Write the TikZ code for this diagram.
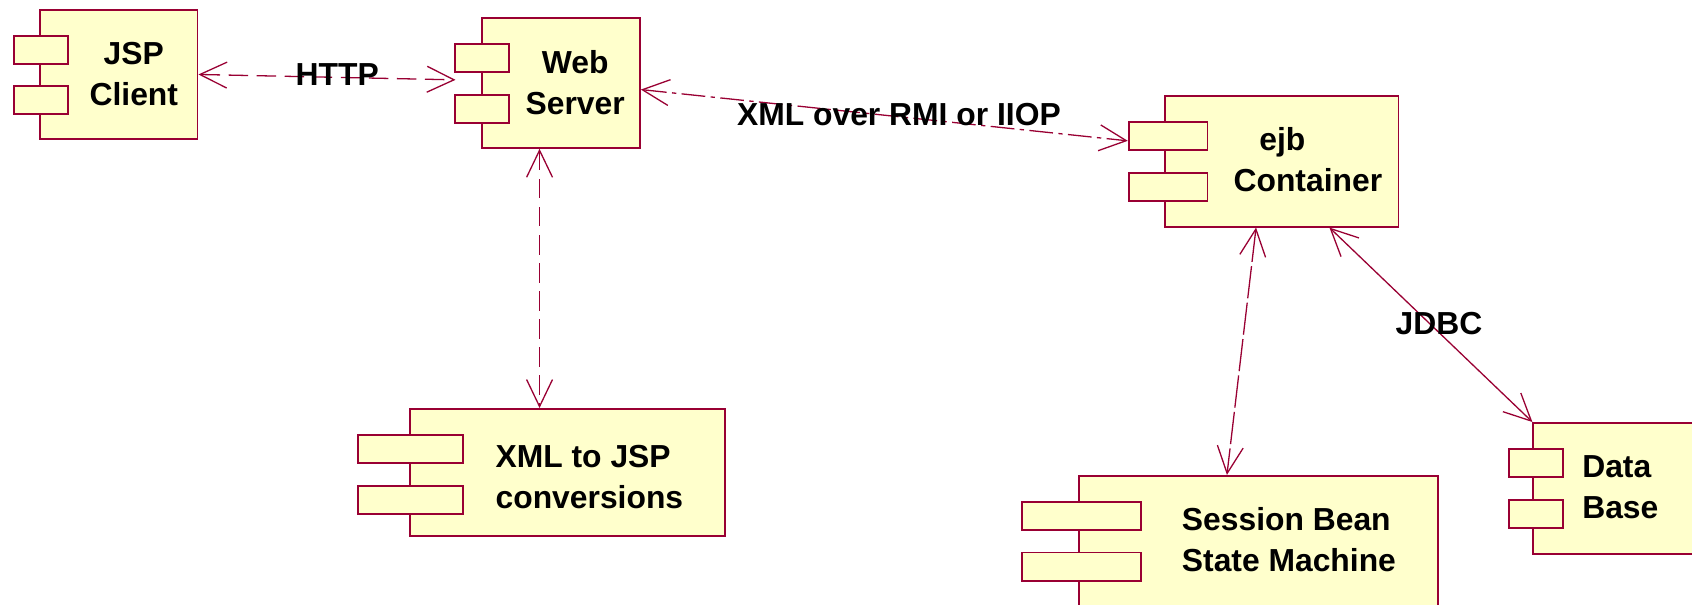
\documentclass[tikz,border=0pt]{standalone}
\usepackage{fontspec}
\setmainfont{Liberation Sans}
\usetikzlibrary{arrows.meta,calc,fit}

\definecolor{umlfill}{RGB}{255,255,204}
\definecolor{umlline}{RGB}{153,0,51}

\tikzset{
  compbox/.style={draw=umlline, fill=umlfill, line width=1.8pt},
  comptab/.style={draw=umlline, fill=umlfill, line width=1.8pt},
  lbl/.style={font=\bfseries\fontsize{29.5}{38}\selectfont, inner sep=0pt, text=black},
  dep/.style={draw=umlline, line width=1.2pt,
    {Straight Barb[length=25pt,width=24pt]}-{Straight Barb[length=25pt,width=24pt]}},
  longdash/.style={dash pattern=on 18pt off 8pt},
  dashdotline/.style={dash pattern=on 22pt off 5pt on 4pt off 5pt},
  sparsedash/.style={dash pattern=on 30pt off 4pt},
}

% UML component: body from (left,top) to (right,bottom), two tabs on the left side
\newcommand\umlcomponent[7]{%
  \coordinate (#1-nw) at (#2,#3);
  \coordinate (#1-se) at (#4,#5);
  \node[compbox, fit=(#1-nw)(#1-se), inner sep=0pt] (#1) {};
  \draw[comptab] (#6,{#3+24}) rectangle (#7,{#3+50});
  \draw[comptab] (#6,{#3+71}) rectangle (#7,{#3+97});
}

\begin{document}
\begin{tikzpicture}[x=1pt,y=-1pt]
\useasboundingbox (0,0) rectangle (1568,560);
\clip (0,0) rectangle (1568,560);

% components
\umlcomponent{jsp}{37}{9}{183}{129}{13}{63}
\umlcomponent{web}{447}{17}{593}{137}{422}{472}
\umlcomponent{ejb}{1080}{89}{1296}{210}{1046}{1119}
\umlcomponent{xml}{380}{379}{672}{497}{332}{429}
\umlcomponent{sess}{1000}{441}{1333}{566}{947}{1057}
\umlcomponent{db}{1421}{392}{1580}{513}{1398}{1448}

% component names
\node[lbl, align=center] (jsp-txt) at ([xshift=14pt]jsp.center) {JSP\\Client};
\node[lbl, align=center] (web-txt) at ([xshift=13pt]web.center) {Web\\Server};
\node[lbl, align=center] (ejb-txt) at ([xshift=24pt,yshift=2pt]ejb.center) {ejb\kern1.6em\\Container};
\node[lbl, align=left, anchor=west] (xml-txt) at ([xshift=80pt,yshift=-4pt]xml.west) {XML to JSP\\conversions};
\node[lbl, align=left, anchor=west] (sess-txt) at ([xshift=96pt,yshift=3pt]sess.west) {Session Bean\\State Machine};
\node[lbl, align=left, anchor=west] (db-txt) at ([xshift=46pt,yshift=1pt]db.west) {Data\\Base};

% dependencies
\draw[dep, longdash] (jsp.east) -- node[lbl, pos=0.54, yshift=2.5pt] (http) {HTTP}
  ([xshift=-24pt,yshift=3pt]web.west);
\draw[dep, dashdotline] ([yshift=-6pt]web.east) -- node[lbl, pos=0.53, yshift=2pt] (rmi) {XML over RMI or IIOP}
  ([xshift=-34pt,yshift=19pt]ejb.west);
\draw[dep, longdash] ([xshift=-20pt]web.south) -- ([xshift=-26pt]xml.north);
\draw[dep, sparsedash] ([xshift=-24pt]ejb.south) -- ([xshift=-29.5pt]sess.north);
\draw[dep] ([xshift=44pt]ejb.south) -- node[lbl, pos=0.54, yshift=8pt] (jdbc) {JDBC} (db.north west);
\end{tikzpicture}
\end{document}
